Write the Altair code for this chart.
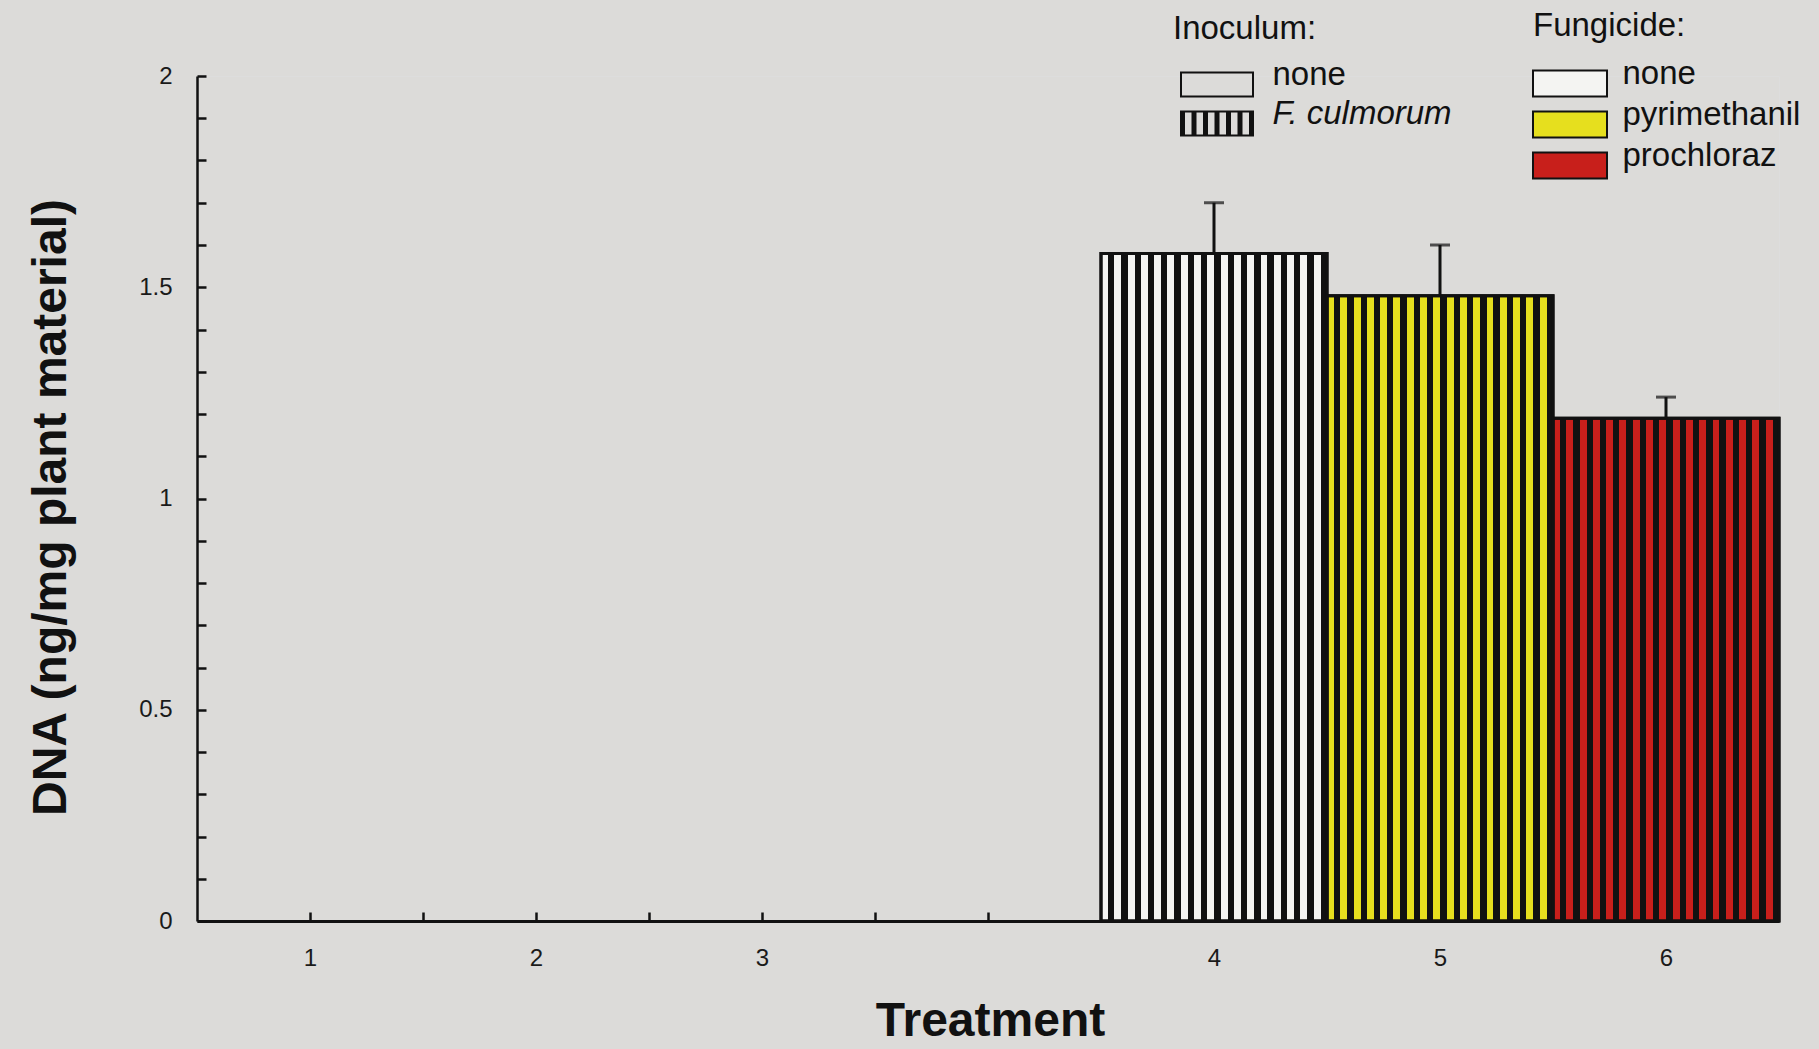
import altair as alt
import pandas as pd

# Treatments, where each sits on the x scale (slot 4 is left empty as a spacer)
treatments = ["1", "2", "3", "4", "5", "6"]
positions = [1, 2, 3, 5, 6, 7]
inoculum = ["none", "none", "none", "F. culmorum", "F. culmorum", "F. culmorum"]
fungicide = ["none", "pyrimethanil", "prochloraz", "none", "pyrimethanil", "prochloraz"]

# Fungal DNA (ng/mg plant material) and standard error
dna = [0.0, 0.0, 0.0, 1.58, 1.48, 1.19]
dna_se = [0.0, 0.0, 0.0, 0.12, 0.12, 0.05]

inoculum_levels = ["none", "F. culmorum"]
fungicide_levels = ["none", "pyrimethanil", "prochloraz"]
fungicide_colors = ["#f4f4f2", "#e6df1e", "#c81f1b"]

W, H = 1582, 845
INK = "#111111"
FONT = "Liberation Sans"
BG = "#dcdbd9"

df = pd.DataFrame({
    "treatment": treatments,
    "pos": positions,
    "inoculum": inoculum,
    "fungicide": fungicide,
    "dna": dna,
    "se": dna_se,
})


def stripe_fill(n=17, gap=0.52):
    """Vertical black stripes over a transparent ground, as a linear gradient."""
    clear = "rgba(0,0,0,0)"
    stops = []
    for k in range(n):
        a, b, c = k / n, (k + gap) / n, (k + 1) / n
        stops += [
            alt.GradientStop(color=clear, offset=a),
            alt.GradientStop(color=clear, offset=b),
            alt.GradientStop(color=INK, offset=b),
            alt.GradientStop(color=INK, offset=c),
        ]
    return alt.LinearGradient(gradient="linear", stops=stops, x1=0, x2=1, y1=0, y2=0)


# Legend glyphs. Symbol size 400 -> path unit = 10 px, so coordinates are px / 10.
SYM_SIZE = 400
U = 10.0


def rect(x0, y0, x1, y1):
    return f"M{x0 / U:.2f},{y0 / U:.2f}H{x1 / U:.2f}V{y1 / U:.2f}H{x0 / U:.2f}Z"


BW, BH = 37, 13  # half width / half height of a legend box in px
box_path = rect(-BW, -BH, BW, BH)
# open frame: outer box plus a reversed inner box leaves a 2 px border
frame_path = box_path + (
    f"M{-(BW - 2) / U:.2f},{-(BH - 2) / U:.2f}V{(BH - 2) / U:.2f}"
    f"H{(BW - 2) / U:.2f}V{-(BH - 2) / U:.2f}Z"
)
# box with vertical bars
striped_path = rect(-BW, -BH, BW, -BH + 2) + rect(-BW, BH - 2, BW, BH)
bar_px = 5
for i in range(7):
    x0 = -BW + i * (2 * BW - bar_px) / 6
    striped_path += rect(x0, -BH, x0 + bar_px, BH)

x_scale = alt.Scale(domain=[0.5, 7.5], nice=False, zero=False)
y_scale = alt.Scale(domain=[0, 2], nice=False)

label_expr = " : ".join(
    f"datum.value == {p} ? '{t}'" for p, t in zip(positions, treatments)
) + " : ''"

x_label_axis = alt.Axis(
    orient="bottom", values=positions, labelExpr=label_expr, ticks=False, tickSize=0,
    domain=False, grid=False, labelFont=FONT, labelFontSize=24, labelColor="#1a1a1a",
    labelPadding=44, labelBaseline="alphabetic",
    title="Treatment", titleFont=FONT, titleFontSize=48, titleFontWeight="bold",
    titleColor=INK, titleX=793, titleY=114, titleBaseline="alphabetic", titleAlign="center",
)
y_label_axis = alt.Axis(
    orient="left", values=[0, 0.5, 1, 1.5, 2], format="~g", ticks=False, tickSize=0,
    domain=False, grid=False, labelFont=FONT, labelFontSize=24, labelColor="#1a1a1a",
    labelPadding=25,
    title="DNA (ng/mg plant material)", titleFont=FONT, titleFontSize=48,
    titleFontWeight="bold", titleColor=INK, titleAngle=270, titleX=-132, titleY=431,
    titleBaseline="alphabetic", titleAlign="center",
)
# Inward-pointing tick marks: axes mirrored onto the opposite edge
x_tick_axis = alt.Axis(
    orient="top", offset=-H, values=[1 + 0.5 * i for i in range(13)], labels=False,
    title=None, grid=False, tickSize=9, tickWidth=2.5, tickColor=INK,
    domain=True, domainWidth=3, domainColor=INK,
)
y_tick_axis = alt.Axis(
    orient="right", offset=-W, values=[round(0.1 * i, 1) for i in range(21)], labels=False,
    title=None, grid=False, tickSize=9, tickWidth=2.5, tickColor=INK,
    domain=True, domainWidth=2.5, domainColor=INK,
)

base = alt.Chart(df).transform_calculate(
    x0="datum.pos - 0.5", x1="datum.pos + 0.5", base0="0", top="datum.dna + datum.se"
)

bars = base.transform_filter("datum.dna > 0").mark_bar(stroke=INK, strokeWidth=3).encode(
    x=alt.X("x0:Q", scale=x_scale, axis=x_label_axis),
    x2="x1:Q",
    y=alt.Y("dna:Q", scale=y_scale, axis=y_label_axis),
    y2="base0:Q",
    fill=alt.Fill(
        "fungicide:N",
        scale=alt.Scale(domain=fungicide_levels, range=fungicide_colors),
        legend=alt.Legend(
            orient="none", legendX=1336, legendY=-66, padding=0,
            title="Fungicide:", titleFont=FONT, titleFontSize=33, titleFontWeight="normal",
            titleColor=INK, titlePadding=24,
            labelFont=FONT, labelFontSize=33, labelColor=INK, labelOffset=36,
            labelBaseline="alphabetic", labelLimit=400,
            symbolType=box_path, symbolSize=SYM_SIZE, symbolStrokeColor=INK,
            symbolStrokeWidth=2, symbolOffset=20.5, rowPadding=-3,
        ),
    ),
)

stripes = base.transform_filter("datum.inoculum == 'F. culmorum'").mark_bar(
    fill=stripe_fill(), stroke=INK, strokeWidth=3
).encode(
    x=alt.X("x0:Q", scale=x_scale, axis=None),
    x2="x1:Q",
    y=alt.Y("dna:Q", scale=y_scale, axis=None),
    y2="base0:Q",
)

err_line = base.transform_filter("datum.se > 0").mark_rule(color=INK, strokeWidth=3).encode(
    x=alt.X("pos:Q", scale=x_scale, axis=None),
    y=alt.Y("dna:Q", scale=y_scale, axis=None),
    y2="top:Q",
)
err_cap = base.transform_filter("datum.se > 0").mark_tick(
    color=INK, orient="horizontal", size=20, thickness=3
).encode(
    x=alt.X("pos:Q", scale=x_scale, axis=None),
    y=alt.Y("top:Q", scale=y_scale, axis=None),
)

# Invisible points carrying the inoculum legend and the tick axes
inoc = base.mark_point(filled=True, color=INK, opacity=0).encode(
    x=alt.X("pos:Q", scale=x_scale, axis=x_tick_axis),
    y=alt.Y("dna:Q", scale=y_scale, axis=y_tick_axis),
    shape=alt.Shape(
        "inoculum:N",
        scale=alt.Scale(domain=inoculum_levels, range=[frame_path, striped_path]),
        legend=alt.Legend(
            orient="none", legendX=976, legendY=-63, padding=0,
            title="Inoculum:", titleFont=FONT, titleFontSize=33, titleFontWeight="normal",
            titleColor=INK, titlePadding=22,
            labelFont=FONT, labelFontSize=33, labelColor=INK, labelOffset=39,
            labelBaseline="alphabetic", labelLimit=400,
            labelFontStyle={"expr": "datum.label == 'F. culmorum' ? 'italic' : 'normal'"},
            symbolSize=SYM_SIZE, symbolFillColor=INK, symbolStrokeWidth=0, symbolOpacity=1,
            symbolOffset=27.5, rowPadding=-1,
        ),
    ),
)

chart = (
    alt.layer(bars, stripes, err_line, err_cap, inoc)
    .resolve_axis(x="independent", y="independent")
    .properties(
        width=W, height=H, background=BG,
        padding={"left": 197, "top": 76, "right": 40, "bottom": 128},
        autosize=alt.AutoSizeParams(type="none"),
    )
    .configure_view(stroke=None)
    .configure(font=FONT)
)

chart.save("out.html", embed_options={"renderer": "svg", "actions": False})
